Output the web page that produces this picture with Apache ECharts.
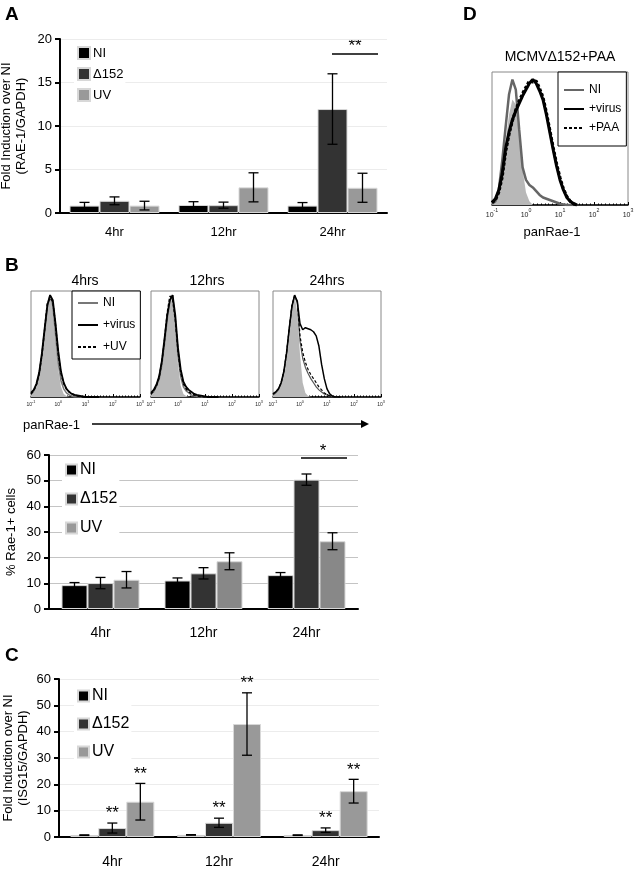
<!DOCTYPE html>
<html>
<head>
<meta charset="utf-8">
<script src="https://cdn.jsdelivr.net/npm/echarts@6/dist/echarts.min.js"></script>
<style>
  html, body { margin: 0; padding: 0; background: #fff; }
  #main { width: 636px; height: 869px; }
</style>
</head>
<body>
<div id="main"></div>
<script>
var cats = ['4hr', '12hr', '24hr'];

// A: fold induction RAE-1/GAPDH (mean, sd)
var aNI = [0.85, 0.92, 0.85],   aNIsd = [0.37, 0.38, 0.35];
var aD152 = [1.4, 0.9, 11.95],  aD152sd = [0.45, 0.35, 4.05];
var aUV = [0.85, 2.95, 2.9],    aUVsd = [0.5, 1.67, 1.67];

// B: % Rae-1+ cells
var bNI = [9.3, 11.1, 13.2],    bNIsd = [1.0, 1.0, 1.0];
var bD152 = [10.1, 13.9, 50.4], bD152sd = [2.2, 2.2, 2.2];
var bUV = [11.4, 18.6, 26.4],   bUVsd = [3.2, 3.3, 3.3];

// C: fold induction ISG15/GAPDH
var cNI = [0.7, 0.8, 0.7],      cNIsd = [0.1, 0.1, 0.1];
var cD152 = [3.4, 5.4, 2.6],    cD152sd = [1.9, 1.75, 0.85];
var cUV = [13.4, 42.9, 17.4],   cUVsd = [6.95, 11.85, 4.5];
var cStarsD152 = ['**', '**', '**'];
var cStarsUV = ['**', '**', '**'];

// histograms: log10(panRae-1) bins and relative counts
var histX = [-1.0, -0.9, -0.8, -0.7, -0.6, -0.5, -0.4, -0.3, -0.2, -0.1, 0.0, 0.1, 0.2,
             0.3, 0.4, 0.5, 0.6, 0.7, 0.8, 0.9, 1.0, 1.1, 1.2, 1.3, 1.4, 1.5];

var fill4   = [2, 5, 10, 20, 38, 62, 86, 98, 88, 58, 27, 10, 3, 1, 0, 0, 0, 0, 0, 0, 0, 0, 0, 0, 0, 0];
var ni4     = [3, 6, 12, 22, 40, 64, 88, 100, 90, 62, 33, 16, 8, 4, 2, 1, 0, 0, 0, 0, 0, 0, 0, 0, 0, 0];
var uv4     = [3, 6, 12, 23, 41, 66, 92, 97, 94, 70, 42, 23, 13, 8, 5, 3, 2, 1, 0.5, 0, 0, 0, 0, 0, 0, 0];
var virus4  = [4, 7, 13, 24, 43, 67, 90, 100, 95, 72, 45, 25, 14, 8, 5, 3, 2, 1.5, 1, 0.5, 0, 0, 0, 0, 0, 0];

var fill12  = [2, 4, 8, 15, 28, 48, 72, 90, 98, 66, 32, 11, 3, 1, 0, 0, 0, 0, 0, 0, 0, 0, 0, 0, 0, 0];
var ni12    = [3, 5, 10, 17, 31, 52, 76, 94, 100, 74, 40, 20, 10, 6, 4, 2, 1, 0.5, 0, 0, 0, 0, 0, 0, 0, 0];
var uv12    = [3, 6, 11, 19, 34, 56, 82, 99, 96, 76, 45, 24, 13, 8, 5, 3, 2, 1, 0.5, 0, 0, 0, 0, 0, 0, 0];
var virus12 = [4, 7, 12, 20, 35, 57, 80, 95, 100, 80, 48, 27, 15, 10, 7, 5, 3, 2, 1.5, 1, 0.5, 0, 0, 0, 0, 0];

var fill24  = [2, 4, 7, 13, 24, 42, 66, 88, 100, 82, 42, 14, 4, 1, 0, 0, 0, 0, 0, 0, 0, 0, 0, 0, 0, 0];
var ni24    = [2, 4, 7, 13, 24, 42, 66, 88, 100, 92, 55, 38, 29, 23, 18, 14, 10, 7, 5, 3, 2, 1, 0.5, 0, 0, 0];
var uv24    = [3, 5, 8, 14, 25, 43, 67, 90, 99, 94, 60, 44, 34, 27, 22, 18, 14, 10, 7, 4, 2.5, 1.2, 0.5, 0, 0, 0];
var virus24 = [3, 5, 8, 14, 25, 43, 67, 89, 100, 94, 72, 66, 68, 67, 66, 64, 60, 50, 32, 18, 8, 3, 1, 0, 0, 0];

var fillD   = [1, 3, 10, 28, 50, 72, 84, 80, 55, 28, 10, 3, 0, 0, 0, 0, 0, 0, 0, 0, 0, 0, 0, 0, 0, 0];
var niD     = [1, 3, 12, 35, 62, 88, 100, 92, 60, 30, 20, 16, 14, 11, 8, 6, 5, 4, 3, 2, 1, 0.5, 0, 0, 0, 0];
var virusD  = [2, 5, 12, 25, 45, 58, 68, 75, 81, 87, 92, 97, 100, 97, 91, 84, 72, 58, 44, 31, 20, 12, 6, 3, 1, 0];
var paaD    = [2, 4, 10, 22, 42, 56, 67, 76, 83, 89, 94, 99, 98, 99, 93, 86, 74, 60, 46, 33, 22, 13, 7, 3, 1, 0];

var FONT = '"Liberation Sans", Arial, sans-serif';
var legendNames = { 'h-ni': 'NI', 'h-virus': '+virus', 'h-uv': '+UV', 'd-ni': 'NI', 'd-virus': '+virus', 'd-paa': '+PAA' };

function pairs(arr) {
    return histX.map(function (x, i) { return [x, arr[i]]; });
}

function box(left, top, width, height, framed) {
    return {
        left: left, top: top, width: width, height: height, outerBoundsMode: 'none',
        show: !!framed, borderColor: '#888', borderWidth: 1
    };
}

function barX(g, margin, fs) {
    return {
        gridIndex: g, type: 'category', data: cats,
        axisLine: { lineStyle: { color: '#000', width: 2 } },
        axisTick: { length: 5, lineStyle: { color: '#000', width: 2 } },
        axisLabel: { color: '#000', fontSize: fs, margin: margin }
    };
}

function barY(g, max, interval, name, gap, gridColor) {
    return {
        gridIndex: g, type: 'value', min: 0, max: max, interval: interval,
        name: name, nameLocation: 'middle', nameRotate: 90, nameGap: gap,
        nameMoveOverlap: false,
        nameTextStyle: { color: '#000', fontSize: 13, lineHeight: 15 },
        axisLine: { show: true, lineStyle: { color: '#000', width: 2 } },
        axisTick: { show: true, length: 5, lineStyle: { color: '#000', width: 2 } },
        axisLabel: { color: '#000', fontSize: 13, margin: 8 },
        splitLine: { lineStyle: { color: gridColor, width: 1 } }
    };
}

function histXAxis(g, fs) {
    return {
        gridIndex: g, type: 'value', min: -1, max: 3, interval: 1,
        axisLine: { lineStyle: { color: '#000', width: 1.5 } },
        axisTick: { inside: true, length: 3, lineStyle: { color: '#000' } },
        minorTick: { show: true, splitNumber: 9, length: 1.5, lineStyle: { color: '#000' } },
        splitLine: { show: false },
        axisLabel: {
            margin: 3,
            formatter: function (v) { return '{m|10}{s|' + v + '}'; },
            rich: {
                m: { fontSize: fs, color: '#222', padding: [fs * 0.5, 0, 0, 0] },
                s: { fontSize: fs * 0.75, color: '#222', verticalAlign: 'top' }
            }
        }
    };
}

function histYAxis(g, max) {
    return { gridIndex: g, type: 'value', min: 0, max: max, show: false };
}

function bars(g, name, data, color, bw) {
    return {
        type: 'bar', name: name, xAxisIndex: g, yAxisIndex: g, data: data,
        barWidth: bw, barGap: '0%',
        itemStyle: { color: color, borderColor: '#d8d8d8', borderWidth: 1 },
        z: 2, silent: true
    };
}

function errs(g, idx, mean, sd, bw, stars) {
    return {
        type: 'custom', xAxisIndex: g, yAxisIndex: g, z: 5, silent: true,
        data: mean.map(function (m, i) { return [i, m - sd[i], m + sd[i]]; }),
        renderItem: function (params, api) {
            var hi = api.coord([api.value(0), api.value(2)]);
            var lo = api.coord([api.value(0), api.value(1)]);
            var x = hi[0] + (idx - 1) * bw;
            var st = { stroke: '#000', lineWidth: 1.3 };
            var kids = [
                { type: 'line', shape: { x1: x, y1: hi[1], x2: x, y2: lo[1] }, style: st },
                { type: 'line', shape: { x1: x - 5, y1: hi[1], x2: x + 5, y2: hi[1] }, style: st },
                { type: 'line', shape: { x1: x - 5, y1: lo[1], x2: x + 5, y2: lo[1] }, style: st }
            ];
            if (stars && stars[params.dataIndex]) {
                kids.push({ type: 'text', style: {
                    text: stars[params.dataIndex], x: x, y: hi[1] - 1,
                    align: 'center', verticalAlign: 'bottom',
                    fill: '#000', font: '17px ' + FONT } });
            }
            return { type: 'group', children: kids };
        }
    };
}

function hline(g, name, arr, color, width, type) {
    return {
        type: 'line', name: name, xAxisIndex: g, yAxisIndex: g, data: pairs(arr),
        symbol: 'none', silent: true,
        itemStyle: { color: color },
        lineStyle: { color: color, width: width, type: type || 'solid' }
    };
}

function hfill(g, arr) {
    return {
        type: 'line', xAxisIndex: g, yAxisIndex: g, data: pairs(arr),
        symbol: 'none', silent: true, z: 1,
        lineStyle: { width: 0 }, areaStyle: { color: '#b8b8b8', opacity: 1 }
    };
}

function barLegend(left, top, fs, size, gap) {
    return {
        data: ['NI', 'Δ152', 'UV'], orient: 'vertical', left: left, top: top,
        icon: 'rect', itemWidth: size, itemHeight: size, itemGap: gap,
        padding: [2, 2, 2, 3], backgroundColor: '#fff', selectedMode: false,
        textStyle: { color: '#000', fontSize: fs, padding: [0, 0, 0, -2] }
    };
}

function histLegend(names, left, top, pad, h, gap) {
    return {
        data: names, orient: 'vertical', left: left, top: top,
        itemWidth: 20, itemHeight: h, itemGap: gap, padding: pad,
        borderColor: '#000', borderWidth: 1, backgroundColor: '#fff', selectedMode: false,
        itemStyle: { opacity: 0 },
        formatter: function (n) { return legendNames[n]; },
        textStyle: { color: '#000', fontSize: 12 }
    };
}

function txt(x, y, s, fs, bold, align) {
    return { type: 'text', x: x, y: y, silent: true, style: {
        text: s, fill: '#000', align: align || 'center', verticalAlign: 'middle',
        font: (bold ? 'bold ' : '') + fs + 'px ' + FONT } };
}

var chart = echarts.init(document.getElementById('main'));
var option = {
    animation: false,
    backgroundColor: '#fff',
    textStyle: { fontFamily: FONT },
    grid: [
        box(60, 39, 327, 174),
        box(31, 291, 109, 106, true),
        box(151, 291, 108, 106, true),
        box(273, 291, 108, 106, true),
        box(49, 455, 309, 154),
        box(59, 679, 320, 158),
        box(492, 72, 136, 133, true)
    ],
    xAxis: [
        barX(0, 13, 13),
        histXAxis(1, 5), histXAxis(2, 5), histXAxis(3, 5),
        barX(4, 17, 14),
        barX(5, 18, 14),
        histXAxis(6, 7)
    ],
    yAxis: [
        barY(0, 20, 5, 'Fold Induction over NI\n(RAE-1/GAPDH)', 31, '#ececec'),
        histYAxis(1, 104), histYAxis(2, 104), histYAxis(3, 104),
        barY(4, 60, 10, '% Rae-1+ cells', 30, '#c4c4c4'),
        barY(5, 60, 10, 'Fold Induction over NI\n(ISG15/GAPDH)', 28, '#ececec'),
        histYAxis(6, 106)
    ],
    legend: [
        barLegend(74, 44, 13, 12, 7),
        barLegend(62, 460, 16, 11, 13),
        barLegend(74, 686, 16, 11, 12),
        histLegend(['h-ni', 'h-virus', 'h-uv'], 72, 291, [6, 5], 10, 10),
        histLegend(['d-ni', 'd-virus', 'd-paa'], 558, 72, [12, 5], 8, 7)
    ],
    series: [
        bars(0, 'NI', aNI, '#000', 30), bars(0, 'Δ152', aD152, '#333', 30), bars(0, 'UV', aUV, '#999', 30),
        errs(0, 0, aNI, aNIsd, 30), errs(0, 1, aD152, aD152sd, 30), errs(0, 2, aUV, aUVsd, 30),

        hfill(1, fill4),
        hline(1, 'h-ni', ni4, '#777', 1.5), hline(1, 'h-uv', uv4, '#000', 1.5, [3, 2]), hline(1, 'h-virus', virus4, '#000', 1.8),
        hfill(2, fill12),
        hline(2, 'ni12', ni12, '#777', 1.5), hline(2, 'uv12', uv12, '#000', 1.5, [3, 2]), hline(2, 'virus12', virus12, '#000', 1.8),
        hfill(3, fill24),
        hline(3, 'ni24', ni24, '#555', 1.2), hline(3, 'uv24', uv24, '#000', 1.2, [3, 2]), hline(3, 'virus24', virus24, '#000', 1.5),

        bars(4, 'NI', bNI, '#000', 26), bars(4, 'Δ152', bD152, '#333', 26), bars(4, 'UV', bUV, '#888', 26),
        errs(4, 0, bNI, bNIsd, 26), errs(4, 1, bD152, bD152sd, 26), errs(4, 2, bUV, bUVsd, 26),

        bars(5, 'NI', cNI, '#000', 28), bars(5, 'Δ152', cD152, '#333', 28), bars(5, 'UV', cUV, '#999', 28),
        errs(5, 0, cNI, cNIsd, 28), errs(5, 1, cD152, cD152sd, 28, cStarsD152), errs(5, 2, cUV, cUVsd, 28, cStarsUV),

        hfill(6, fillD),
        hline(6, 'd-ni', niD, '#666', 2.5), hline(6, 'd-virus', virusD, '#000', 3), hline(6, 'd-paa', paaD, '#000', 3, [3, 2])
    ],
    graphic: [
        txt(5, 15, 'A', 19, true, 'left'),
        txt(5, 266, 'B', 19, true, 'left'),
        txt(5, 656, 'C', 19, true, 'left'),
        txt(463, 15, 'D', 19, true, 'left'),
        txt(85, 281, '4hrs', 14), txt(207, 281, '12hrs', 14), txt(327, 281, '24hrs', 14),
        txt(560, 57, 'MCMVΔ152+PAA', 14),
        txt(23, 425, 'panRae-1', 13, false, 'left'),
        txt(552, 232, 'panRae-1', 13),
        { type: 'line', silent: true, shape: { x1: 92, y1: 424, x2: 362, y2: 424 }, style: { stroke: '#000', lineWidth: 1.5 } },
        { type: 'polygon', silent: true, shape: { points: [[361, 420], [369, 424], [361, 428]] }, style: { fill: '#000' } },
        { type: 'line', silent: true, shape: { x1: 332, y1: 54, x2: 378, y2: 54 }, style: { stroke: '#000', lineWidth: 1.5 } },
        txt(355, 46, '**', 17),
        { type: 'line', silent: true, shape: { x1: 301, y1: 458, x2: 347, y2: 458 }, style: { stroke: '#000', lineWidth: 1.5 } },
        txt(323, 451, '*', 17)
    ]
};
chart.setOption(option);
</script>
</body>
</html>
